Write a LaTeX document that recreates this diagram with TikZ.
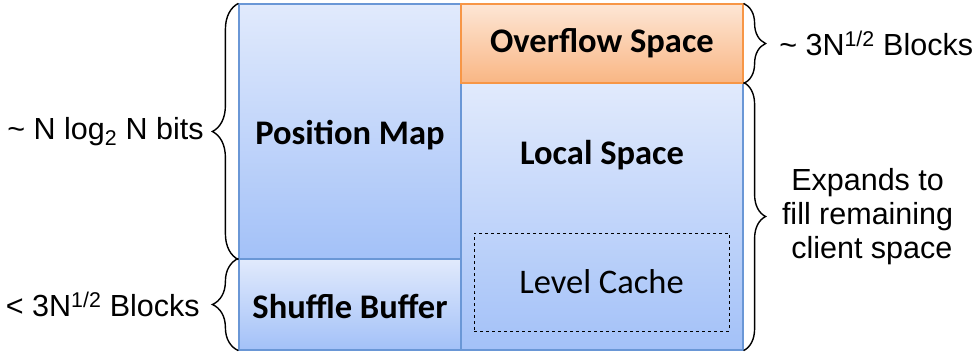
\documentclass[tikz,border=0pt]{standalone}
\usepackage{fontspec}
\setmainfont{Liberation Sans}
\newfontfamily\boxfont{Carlito}
\usetikzlibrary{decorations.pathreplacing}
\definecolor{bluetop}{HTML}{E1EAFC}
\definecolor{bluebot}{HTML}{A3C1F8}
\definecolor{blueline}{HTML}{6A97D6}
\definecolor{orangetop}{HTML}{FDE6D5}
\definecolor{orangebot}{HTML}{F9B684}
\definecolor{orangeline}{HTML}{F79646}
\tikzset{
  region/.style={rectangle, inner sep=0pt, draw=blueline, line width=1.2pt,
    top color=bluetop, bottom color=bluebot},
  overflowbox/.style={rectangle, inner sep=0pt, draw=orangeline, line width=1.2pt,
    top color=orangetop, bottom color=orangebot},
  boxlabel/.style={font=\boxfont\bfseries\fontsize{34.5}{38}\selectfont, inner sep=0pt},
  cachebox/.style={rectangle, inner sep=0pt, draw=black, dashed, line width=0.8pt,
    font=\boxfont\fontsize{34.5}{38}\selectfont},
  bracel/.style={decorate, decoration={brace, amplitude=26pt}, line width=1.4pt},
  bracer/.style={decorate, decoration={brace, amplitude=22pt}, line width=1.4pt},
  sidetext/.style={font=\fontsize{30.5}{34}\selectfont, inner sep=0pt}
}
\begin{document}
\begin{tikzpicture}[x=1pt, y=-1pt]
  \useasboundingbox (0,0) rectangle (977,354);
  % memory regions
  \node[region, minimum width=222pt, minimum height=255pt] (pm) at (350,131.5) {};
  \node[region, minimum width=222pt, minimum height=91pt] (sb) at (350,304.5) {};
  \node[region, minimum width=282pt, minimum height=267pt] (ls) at (602,216.5) {};
  \node[overflowbox, minimum width=282pt, minimum height=79pt, boxlabel] (of) at (602,43.5) {Overflow Space};
  \node[boxlabel] (pmt) at (350,135) {Position Map};
  \node[boxlabel] (sbt) at (350,306) {Shuffle Buffer};
  \node[boxlabel] (lst) at (602,155) {Local Space};
  \node[cachebox, minimum width=255pt, minimum height=98pt] (lc) at (601.5,282) {Level Cache};
  % left braces
  \draw[bracel] (pm.south west) -- (pm.north west)
    node[midway, xshift=-34pt, anchor=east, sidetext] (lt1) {\textasciitilde{} N log\textsubscript{2} N bits};
  \draw[bracel] (sb.south west) -- (sb.north west)
    node[midway, xshift=-38pt, anchor=east, sidetext] (lt2) {< 3N\textsuperscript{1/2} Blocks};
  % right braces
  \draw[bracer] (of.north east) -- (of.south east)
    node[midway, xshift=35pt, anchor=west, sidetext] (rt1) {\textasciitilde{} 3N\textsuperscript{1/2} Blocks};
  \draw[bracer] (ls.north east) -- (ls.south east)
    node[midway, xshift=124pt, anchor=center, sidetext, align=center] (rt2) {Expands to\\fill remaining\\\ client space};
\end{tikzpicture}
\end{document}
